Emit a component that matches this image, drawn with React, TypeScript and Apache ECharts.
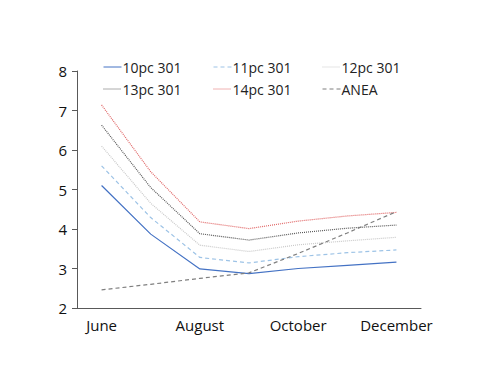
import React, { useEffect, useRef } from "react";
import * as echarts from "echarts";

const months = ["June", "July", "August", "September", "October", "November", "December"];
const pc10 = [5.1, 3.87, 2.99, 2.87, 3.0, 3.08, 3.16];
const pc11 = [5.6, 4.29, 3.28, 3.14, 3.3, 3.4, 3.47];
const pc12 = [6.1, 4.65, 3.59, 3.43, 3.6, 3.7, 3.79];
const pc13 = [6.63, 5.05, 3.88, 3.72, 3.9, 4.02, 4.1];
const pc14 = [7.14, 5.45, 4.18, 4.01, 4.2, 4.33, 4.42];
const anea = [2.46, 2.6, 2.75, 2.89, 3.38, 3.9, 4.44];
const yTicks = [2, 3, 4, 5, 6, 7, 8];
const names = ["10pc 301", "11pc 301", "12pc 301", "13pc 301", "14pc 301", "ANEA"];

const FONT = "'Open Sans', sans-serif";

export default function App() {
  const ref = useRef<HTMLDivElement>(null);
  useEffect(() => {
    if (!ref.current) return;
    const chart = echarts.init(ref.current, undefined, { renderer: "svg" });
    const mk = (name: string, data: number[], color: string, type: any) => ({
      name,
      type: "line",
      data,
      symbol: "none",
      lineStyle: { color, width: 1.2, type },
      itemStyle: { color },
    });
    const colX = [103, 213, 322];
    const rowTop = [60, 82];
    const legends = names.map((n, i) => ({
      left: colX[i % 3],
      top: rowTop[Math.floor(i / 3)],
      data: [n],
      itemWidth: 18,
      itemHeight: 10,
      itemGap: 0,
      padding: 0,
      itemStyle: { opacity: 0 },
      lineStyle: { width: 1 },
      textStyle: { fontFamily: FONT, fontSize: 14, color: "#222", padding: [0, 0, 0, -4] },
    }));
    chart.setOption({
      animation: false,
      grid: { left: 77, right: 79, top: 71, bottom: 78 },
      legend: legends,
      xAxis: {
        type: "category",
        data: months,
        boundaryGap: true,
        axisLine: { lineStyle: { color: "#595959", width: 1 } },
        axisTick: { interval: 1, length: 5, lineStyle: { color: "#595959" } },
        axisLabel: { interval: 1, fontFamily: FONT, fontSize: 15, color: "#111", margin: 9 },
      },
      yAxis: {
        type: "value",
        min: yTicks[0],
        max: yTicks[yTicks.length - 1],
        interval: 1,
        axisLine: { show: true, lineStyle: { color: "#595959", width: 1 } },
        axisTick: { show: true, length: 5, lineStyle: { color: "#595959" } },
        splitLine: { show: false },
        axisLabel: { fontFamily: FONT, fontSize: 15, color: "#111", margin: 10 },
      },
      series: [
        mk(names[0], pc10, "#4472C4", "solid"),
        mk(names[1], pc11, "#9DC3E6", [4, 3]),
        mk(names[2], pc12, "#C9C9C9", [1, 1]),
        mk(names[3], pc13, "#595959", [1, 1]),
        mk(names[4], pc14, "#E06666", [1, 1]),
        mk(names[5], anea, "#7F7F7F", [4, 3]),
      ],
    });
    return () => chart.dispose();
  }, []);
  return <div ref={ref} style={{ width: 500, height: 386, margin: -8 }} />;
}
